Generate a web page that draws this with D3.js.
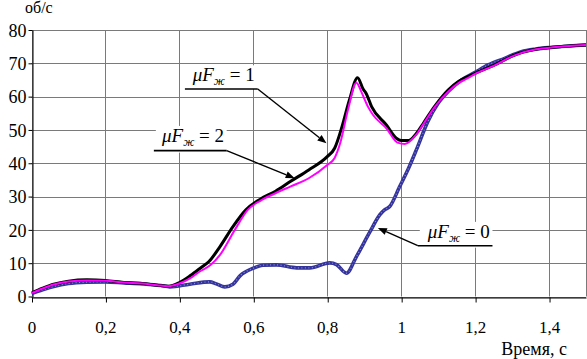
<!DOCTYPE html>
<html><head><meta charset="utf-8">
<script src="https://cdn.jsdelivr.net/npm/d3@7"></script>
<style>body{margin:0;background:#fff}svg{display:block}svg text{fill:#000}</style>
</head><body><svg id="c" width="587" height="359"></svg>
<script>
// ---- data ----
const xTicks = [0, 0.2, 0.4, 0.6, 0.8, 1.0, 1.2, 1.4];
const xTickLabels = ["0", "0,2", "0,4", "0,6", "0,8", "1", "1,2", "1,4"];
const yTicks = [0, 10, 20, 30, 40, 50, 60, 70, 80];
const yTickLabels = ["0", "10", "20", "30", "40", "50", "60", "70", "80"];
const yUnit = "об/с";
const xTitle = "Время, с";

// μFж = 1 (black)
const t1 = [0, 0.03, 0.06, 0.1, 0.15, 0.2, 0.25, 0.3, 0.34, 0.37, 0.4, 0.43, 0.46, 0.48, 0.51, 0.545, 0.58, 0.62, 0.66, 0.7, 0.75, 0.8, 0.82, 0.84, 0.86, 0.882, 0.897, 0.906, 0.92, 0.96, 0.987, 1.0, 1.02, 1.04, 1.06, 1.09, 1.127, 1.154, 1.176, 1.2, 1.253, 1.307, 1.365, 1.41, 1.455, 1.5];
const v1 = [1.1, 2.5, 3.7, 4.6, 5.0, 4.8, 4.2, 3.9, 3.4, 3.1, 4.2, 6.3, 8.8, 10.5, 15, 21, 26, 29.3, 31.6, 34.5, 38, 42, 44.5, 51, 59, 65.7, 62.3, 60.8, 57, 51.5, 47.5, 46.8, 46.8, 48.8, 52, 57, 62, 64.5, 65.8, 67, 69.5, 72.5, 74.2, 74.8, 75.2, 75.5];
// μFж = 2 (magenta)
const t2 = [0, 0.03, 0.06, 0.1, 0.15, 0.2, 0.25, 0.3, 0.34, 0.37, 0.4, 0.43, 0.455, 0.485, 0.51, 0.55, 0.585, 0.62, 0.66, 0.7, 0.75, 0.8, 0.82, 0.835, 0.856, 0.879, 0.892, 0.91, 0.924, 0.96, 0.99, 1.01, 1.04, 1.06, 1.09, 1.127, 1.154, 1.176, 1.2, 1.253, 1.307, 1.365, 1.41, 1.455, 1.5];
const v2 = [1.0, 2.4, 3.6, 4.5, 4.8, 4.7, 4.2, 3.9, 3.4, 3.1, 3.9, 5.5, 7.5, 9.5, 12.5, 20, 26, 28.8, 31, 33, 35.5, 39.5, 41.6, 46, 56, 64.2, 61.5, 57, 54.5, 50.5, 46.2, 45.8, 48.5, 51.8, 56.8, 61.5, 64, 65.3, 66.8, 69.4, 72.4, 74.2, 74.8, 75.2, 75.5];
// μFж = 0 (blue)
const t0 = [0, 0.03, 0.06, 0.1, 0.15, 0.2, 0.25, 0.3, 0.35, 0.374, 0.428, 0.482, 0.5, 0.523, 0.545, 0.564, 0.6, 0.626, 0.663, 0.717, 0.753, 0.807, 0.825, 0.852, 0.879, 0.915, 0.942, 0.955, 0.969, 0.996, 1.02, 1.041, 1.072, 1.1, 1.127, 1.163, 1.2, 1.235, 1.28, 1.325, 1.365, 1.41, 1.455, 1.5];
const v0 = [0.9, 2.0, 3.0, 3.9, 4.3, 4.4, 4.1, 3.8, 3.3, 2.9, 3.7, 4.4, 3.8, 2.9, 3.7, 6.2, 8.5, 9.4, 9.5, 8.6, 8.6, 10.1, 9.6, 7.0, 12, 19.3, 24.5, 26, 27, 33, 38.5, 44, 52.5, 58, 61.5, 65, 67.3, 69.5, 71.5, 73.5, 74.3, 74.8, 75.2, 75.5];

// annotations (data units)
const annValue = ["1", "2", "0"];
const annTextT = [0.436, 0.353, 1.072];
const annTextV = [64.6, 46.4, 17.6];
const annLineT0 = [0.415, 0.331, 1.045];
const annLineT1 = [0.612, 0.528, 1.247];
const annLineV = [62.3, 43.8, 15.25];
const annTipT = [0.798, 0.712, 0.937];
const annTipV = [46.0, 35.5, 20.6];

// ---- chart ----
const FONT = '"Liberation Serif","Times New Roman",Tinos,"DejaVu Serif",serif';
const svg = d3.select("#c");
const x = d3.scaleLinear().domain([0, 1.5]).range([31.5, 586]);
const y = d3.scaleLinear().domain([0, 80]).range([296.5, 30]);

// grid
const g = svg.append("g");
g.selectAll(".gx").data(xTicks.concat([1.5])).enter().append("line")
  .attr("x1", d => Math.round(x(d)) + 0.5).attr("x2", d => Math.round(x(d)) + 0.5)
  .attr("y1", y(80)).attr("y2", y(0)).attr("stroke", "#7a7a7a").attr("stroke-width", 1);
g.selectAll(".gy").data(yTicks).enter().append("line")
  .attr("x1", x(0)).attr("x2", x(1.5))
  .attr("y1", d => Math.round(y(d)) + 0.5).attr("y2", d => Math.round(y(d)) + 0.5)
  .attr("stroke", "#7a7a7a").attr("stroke-width", 1);

// axes
const xAxis = d3.axisBottom(x).tickValues(xTicks).tickSize(5).tickSizeOuter(0)
  .tickFormat((d, i) => xTickLabels[i]);
const yAxis = d3.axisLeft(y).tickValues(yTicks).tickSize(4).tickSizeOuter(0)
  .tickFormat((d, i) => yTickLabels[i]);
const gx = svg.append("g").attr("transform", `translate(0,${Math.round(y(0)) + 0.5})`).call(xAxis);
const gy = svg.append("g").attr("transform", `translate(${Math.round(x(0)) + 0.5},0)`).call(yAxis);
[gx, gy].forEach(a => {
  a.attr("font-family", FONT);
  a.select(".domain").attr("stroke", "#000");
  a.selectAll(".tick line").attr("stroke", "#000");
  a.selectAll(".tick text").attr("fill", "#000");
});
gx.attr("font-size", 17);
gy.attr("font-size", 18);
gx.selectAll(".tick text").attr("dy", "0").attr("y", 35);
gx.selectAll(".tick line").attr("transform", "translate(0.5,0)");
gy.selectAll(".tick text").attr("x", -6).attr("dy", "0.34em");

svg.append("text").attr("x", 25).attr("y", 13).attr("font-family", FONT).attr("font-size", 16).text(yUnit);
svg.append("text").attr("x", 567).attr("y", 355).attr("text-anchor", "end").attr("font-family", FONT).attr("font-size", 18).text(xTitle);

// curves
svg.append("clipPath").attr("id", "clp").append("rect")
  .attr("x", x(0)).attr("y", y(80) - 5).attr("width", x(1.5) - x(0)).attr("height", y(0) - y(80) + 5);
const line = d3.line().x(d => x(d[0])).y(d => y(d[1])).curve(d3.curveMonotoneX);
const zip = (a, b) => a.map((t, i) => [t, b[i]]);
const cg = svg.append("g").attr("clip-path", "url(#clp)");
cg.append("path").attr("d", line(zip(t0, v0))).attr("fill", "none").attr("stroke", "#34349a").attr("stroke-width", 3.6);
cg.append("path").attr("d", line(zip(t0, v0))).attr("fill", "none").attr("stroke", "#8a8ae0").attr("stroke-width", 1.2).attr("stroke-dasharray", "1,2.5");
cg.append("path").attr("d", line(zip(t1, v1))).attr("fill", "none").attr("stroke", "#000").attr("stroke-width", 3).attr("stroke-linejoin", "round");
cg.append("path").attr("d", line(zip(t2, v2))).attr("fill", "none").attr("stroke", "#ff00ff").attr("stroke-width", 2);

// annotations
const ag = svg.append("g").attr("font-family", FONT);
annValue.forEach((val, i) => {
  const lx0 = x(annLineT0[i]), lx1 = x(annLineT1[i]), ly = y(annLineV[i]);
  const tx = x(annTextT[i]), ty = y(annTextV[i]);
  ag.append("rect").attr("x", lx0 + 2).attr("y", ty - 16).attr("width", lx1 - lx0 - 2).attr("height", ly - ty + 16 + (i === 0 ? 0 : 2)).attr("fill", "#fff");
  const t = ag.append("text").attr("x", tx).attr("y", ty).attr("font-size", 19);
  t.append("tspan").attr("font-style", "italic").text("μF");
  t.append("tspan").attr("font-style", "italic").attr("font-size", 12).attr("dy", 4).text("ж");
  t.append("tspan").attr("dy", -4).text(" = " + val);
  ag.append("line").attr("x1", lx0).attr("x2", lx1).attr("y1", ly).attr("y2", ly).attr("stroke", "#000").attr("stroke-width", 1.6);
  const sx = i === 2 ? lx0 : lx1;
  const px = x(annTipT[i]), py = y(annTipV[i]);
  const ang = Math.atan2(py - ly, px - sx);
  const L = 9, W = 3.5;
  const bx = px - L * Math.cos(ang), by = py - L * Math.sin(ang);
  ag.append("line").attr("x1", sx).attr("y1", ly).attr("x2", bx).attr("y2", by).attr("stroke", "#000").attr("stroke-width", 1.4);
  ag.append("path").attr("d", `M${px},${py}L${bx - W * Math.sin(ang)},${by + W * Math.cos(ang)}L${bx + W * Math.sin(ang)},${by - W * Math.cos(ang)}Z`).attr("fill", "#000");
});
</script></body></html>
